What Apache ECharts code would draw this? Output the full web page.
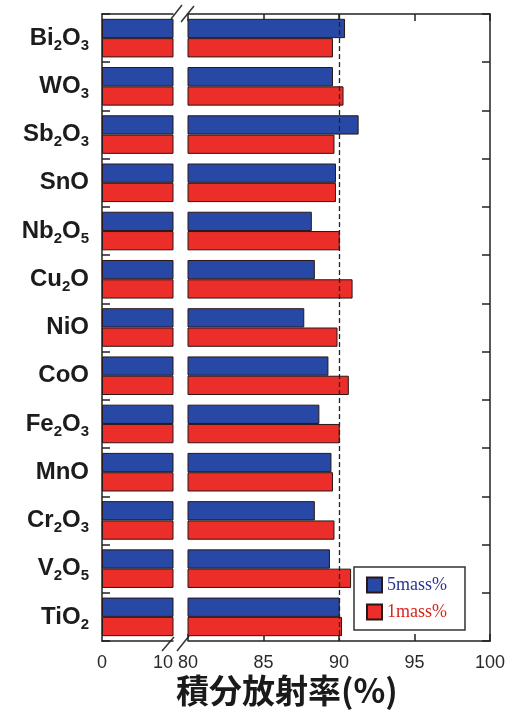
<!DOCTYPE html>
<html>
<head>
<meta charset="utf-8">
<script src="https://cdn.jsdelivr.net/npm/echarts@6/dist/echarts.min.js"></script>
<style>
  html, body { margin: 0; padding: 0; background: #fff; }
  #chart { width: 521px; height: 713px; }
</style>
</head>
<body>
<div id="chart"></div>
<script>
const categories = ["Bi2O3", "WO3", "Sb2O3", "SnO", "Nb2O5", "Cu2O", "NiO", "CoO", "Fe2O3", "MnO", "Cr2O3", "V2O5", "TiO2"];
const mass5 = [90.4, 89.6, 91.3, 89.8, 88.2, 88.4, 87.7, 89.3, 88.7, 89.5, 88.4, 89.4, 90.05];
const mass1 = [89.6, 90.3, 89.7, 89.8, 90.05, 90.9, 89.9, 90.65, 90.05, 89.6, 89.7, 90.8, 90.2];
const lowTicks = [0, 10];
const highTicks = [80, 85, 90, 95, 100];
const refLine = 90;

const blue = "#2848a6";
const red = "#eb2e29";
const edge = "#2a1616";

// plot frame, broken in two pieces
const plotTop = 14, plotBottom = 641;
const lowLeft = 102, lowRight = 173;
const highLeft = 188, highRight = 490;

const chart = echarts.init(document.getElementById("chart"));

const barStyle = (color) => ({ color: color, borderColor: edge, borderWidth: 1 });

const frameLine = { show: true, lineStyle: { color: "#222", width: 1.5 } };

const option = {
  animation: false,
  title: {
    text: "積分放射率(%)",
    left: 176,
    top: 674,
    padding: 0,
    textStyle: {
      fontFamily: "Noto Sans CJK JP",
      fontSize: 33,
      fontWeight: "bold",
      color: "#1a1a1a",
    },
  },
  legend: {
    orient: "vertical",
    left: 354,
    top: 567,
    padding: [9, 18, 9, 12],
    itemWidth: 15,
    itemHeight: 15,
    itemGap: 9,
    borderColor: "#333",
    borderWidth: 1.5,
    icon: "rect",
    textStyle: { fontFamily: "Liberation Serif", fontSize: 18 },
    data: [
      { name: "5mass%", textStyle: { color: "#2a3590" } },
      { name: "1mass%", textStyle: { color: "#d4261f" } },
    ],
  },
  grid: [
    { left: lowLeft, top: plotTop, width: lowRight - lowLeft, height: plotBottom - plotTop },
    { left: highLeft, top: plotTop, width: highRight - highLeft, height: plotBottom - plotTop },
  ],
  xAxis: [
    {
      gridIndex: 0, type: "value", position: "bottom",
      min: lowTicks[0], max: lowTicks[1], interval: 10,
      axisLine: frameLine, axisTick: { show: false }, splitLine: { show: false },
      axisLabel: {
        fontFamily: "Liberation Sans", fontSize: 18, color: "#2a2a2a", margin: 13,
        alignMaxLabel: "right",
      },
    },
    {
      gridIndex: 0, type: "value", position: "top",
      min: lowTicks[0], max: lowTicks[1],
      axisLine: frameLine, axisTick: { show: false }, axisLabel: { show: false },
      splitLine: { show: false },
    },
    {
      gridIndex: 1, type: "value", position: "bottom",
      min: highTicks[0], max: highTicks[highTicks.length - 1], interval: 5,
      axisLine: frameLine,
      axisTick: { show: true, inside: true, length: 7, lineStyle: { color: "#222", width: 1.5 } },
      splitLine: { show: false },
      axisLabel: { fontFamily: "Liberation Sans", fontSize: 18, color: "#2a2a2a", margin: 13 },
    },
    {
      gridIndex: 1, type: "value", position: "top",
      min: highTicks[0], max: highTicks[highTicks.length - 1], interval: 5,
      axisLine: frameLine,
      axisTick: { show: true, inside: true, length: 7, lineStyle: { color: "#222", width: 1.5 } },
      axisLabel: { show: false }, splitLine: { show: false },
    },
  ],
  yAxis: [
    {
      gridIndex: 0, type: "category", position: "left", inverse: true,
      data: categories,
      axisLine: frameLine,
      axisTick: { show: true, inside: true, length: 8, lineStyle: { color: "#222", width: 1.5 } },
      axisLabel: {
        margin: 13,
        fontFamily: "Liberation Sans",
        fontWeight: "bold",
        fontSize: 24,
        color: "#1c1c1c",
        formatter: (v) => v.replace(/(\d)/g, "{s|$1}"),
        rich: {
          s: {
            fontFamily: "Liberation Sans",
            fontWeight: "bold",
            fontSize: 15,
            color: "#1c1c1c",
            verticalAlign: "bottom",
            padding: [0, 0, -3, 0],
          },
        },
      },
    },
    {
      gridIndex: 1, type: "category", position: "right", inverse: true,
      data: categories,
      axisLine: frameLine,
      axisTick: { show: true, inside: true, length: 8, lineStyle: { color: "#222", width: 1.5 } },
      axisLabel: { show: false },
    },
  ],
  series: [
    {
      name: "5mass%", type: "bar", xAxisIndex: 0, yAxisIndex: 0,
      data: mass5, barGap: "0%", barCategoryGap: "20%", itemStyle: barStyle(blue),
    },
    {
      name: "1mass%", type: "bar", xAxisIndex: 0, yAxisIndex: 0,
      data: mass1, barGap: "0%", barCategoryGap: "20%", itemStyle: barStyle(red),
    },
    {
      name: "5mass%", type: "bar", xAxisIndex: 2, yAxisIndex: 1,
      data: mass5, barGap: "0%", barCategoryGap: "20%", itemStyle: barStyle(blue),
    },
    {
      name: "1mass%", type: "bar", xAxisIndex: 2, yAxisIndex: 1,
      data: mass1, barGap: "0%", barCategoryGap: "20%", itemStyle: barStyle(red),
      markLine: {
        silent: true,
        symbol: "none",
        label: { show: false },
        lineStyle: { color: "#222", type: [5, 3], width: 1.3 },
        data: [{ xAxis: refLine }],
      },
    },
  ],
};

chart.setOption(option);

// axis break marks "//" at top and bottom
const x10 = chart.convertToPixel({ xAxisIndex: 0 }, lowTicks[1]);
const x80 = chart.convertToPixel({ xAxisIndex: 2 }, highTicks[0]);
const slash = (x1, y1, x2, y2) => ({
  type: "line",
  shape: { x1: x1, y1: y1, x2: x2, y2: y2 },
  style: { stroke: "#333", lineWidth: 1.5 },
});
chart.setOption({
  graphic: [
    slash(x10 - 2, plotTop + 5, x10 + 9, plotTop - 9),
    slash(x80 - 7, plotTop + 8, x80 + 6, plotTop - 8),
    slash(x10 - 11, plotBottom + 10, x10 + 1, plotBottom - 4),
    slash(x80 - 11, plotBottom + 10, x80 + 1, plotBottom - 5),
  ],
});

window.addEventListener("resize", () => chart.resize());
</script>
</body>
</html>
